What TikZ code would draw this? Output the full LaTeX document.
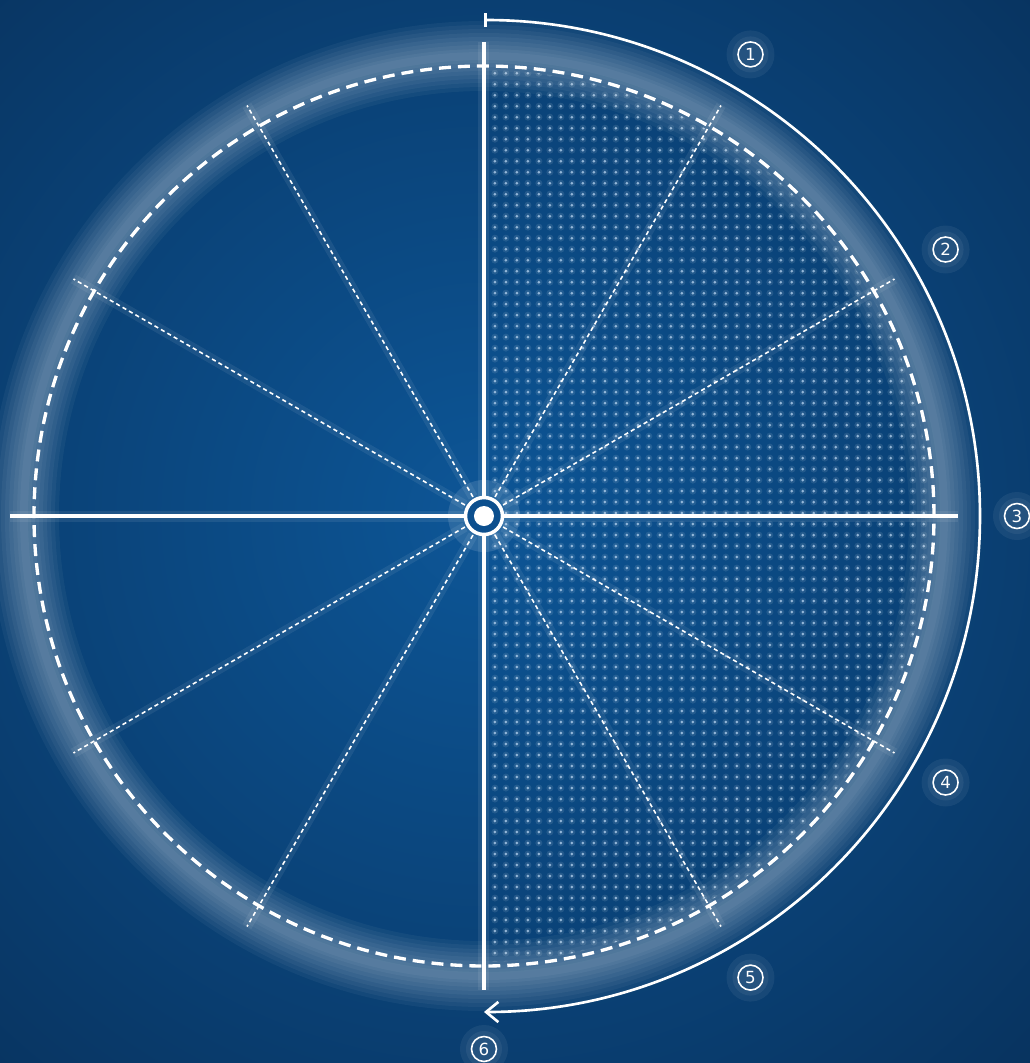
\documentclass[tikz,border=0pt]{standalone}
\usepackage{fontspec}
\newfontfamily\digitfont{DejaVu Sans}
\usetikzlibrary{arrows.meta,patterns.meta}

\definecolor{bgdark}{HTML}{08335F}
\definecolor{bgmid}{HTML}{0D5697}
\definecolor{hubfill}{HTML}{0C4F8E}
\definecolor{dotcol}{HTML}{B9D6F2}

\tikzset{
  glow/.style={white, opacity=0.045, line width=#1*0.02cm},
  spoke/.style={white, line width=0.9pt, dash pattern=on 2.4pt off 1.8pt},
  axis/.style={white, line width=2pt},
  rim/.style={white, line width=1.9pt, dash pattern=on 6.8pt off 4pt},
  steplab/.style={circle, draw=white, line width=0.9pt, minimum size=0.5cm,
    inner sep=0pt, text=white, font=\digitfont\fontsize{9.5}{11}\selectfont},
}

\begin{document}
\begin{tikzpicture}[x=0.02cm, y=0.02cm]
    \useasboundingbox (-484,-547) rectangle (546,516);
    \clip (-484,-547) rectangle (546,516);

    % background
    \fill[bgdark] (-484,-547) rectangle (546,516);
    \shade[inner color=bgmid, outer color=bgdark] (0,0) circle (780);

    % dotted half
    \begin{scope}
      \clip (0,0) circle (446);
      \path[pattern={Dots[radius=0.07cm, distance=0.22cm]}, pattern color=white, opacity=0.1]
        (5,-450) rectangle (450,450);
      \path[pattern={Dots[radius=0.03cm, distance=0.22cm]}, pattern color=dotcol, opacity=0.75]
        (5,-450) rectangle (450,450);
    \end{scope}

    % glowing ring
    \foreach \w in {70,62,54,46,38,30,22,14,8}
      \draw[glow=\w] (0,0) circle (460);

    % spokes
    \foreach \a in {30,60,120,150,210,240,300,330} {
      \draw[white, opacity=0.07, line width=0.2cm] (\a:22) -- (\a:474);
      \draw[spoke] (\a:22) -- (\a:474);
    }

    \draw[rim] (0,0) circle (450);

    % axes
    \coordinate (west) at (-474,0);
    \coordinate (east) at (474,0);
    \coordinate (north) at (0,474);
    \coordinate (south) at (0,-474);
    \draw[white, opacity=0.08, line width=0.22cm] (west) -- (east);
    \draw[white, opacity=0.08, line width=0.22cm] (north) -- (south);
    \draw[axis] (west) -- (east);
    \draw[axis] (north) -- (south);

    % hub
    \fill[white, opacity=0.12] (0,0) circle (36);
    \node[circle, fill=hubfill, draw=white, line width=2pt, minimum size=0.74cm,
      inner sep=0pt] (hub) at (0,0) {};
    \fill[white] (hub.center) circle (10);

    % sweep arrow
    \draw[white, line width=1.5pt, {Bar[width=8pt]}-{Straight Barb[length=7pt, width=11.5pt]}]
      (0,496) arc[start angle=90, end angle=-90, radius=496];

    % step labels
    \foreach \n/\a in {1/60,2/30,3/0,4/-30,5/-60,6/-90} {
      \fill[white, opacity=0.06] (\a:533) circle (24);
      \fill[white, opacity=0.06] (\a:533) circle (18);
      \node[steplab] (lab\n) at (\a:533) {\n};
    }
\end{tikzpicture}
\end{document}
